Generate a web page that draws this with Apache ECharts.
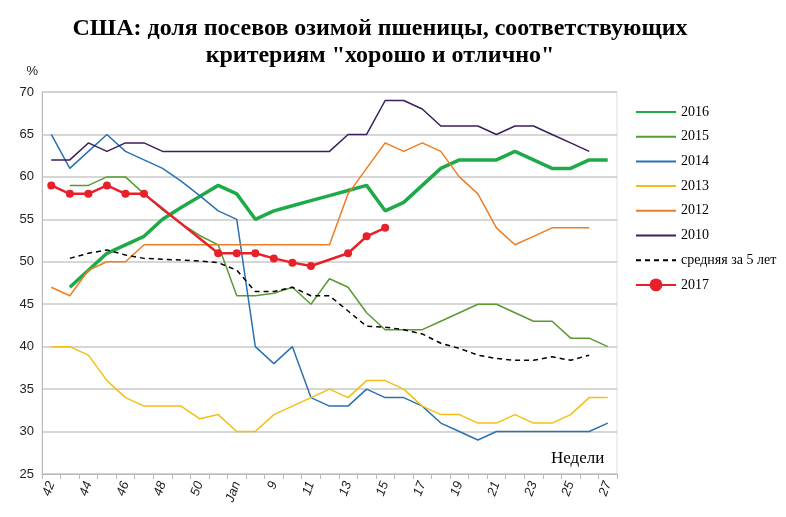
<!DOCTYPE html>
<html>
<head>
<meta charset="utf-8">
<script src="https://cdn.jsdelivr.net/npm/echarts@6/dist/echarts.min.js"></script>
<style>html,body{margin:0;padding:0;background:#fff}#main{width:786px;height:517px}</style>
</head>
<body>
<div id="main"></div>
<script>
// недели: 42..51, Jan, 8..27
var weeks = ['42','43','44','45','46','47','48','49','50','51','Jan','8','9','10','11','12','13','14','15','16','17','18','19','20','21','22','23','24','25','26','27'];

var y2016 = [null,47,49,51,52,53,55,56.4,57.7,59,58,55,56,56.6,57.2,57.8,58.4,59,56,57,59,61,62,62,62,63,62,61,61,62,62];
var y2015 = [null,59,59,60,60,58,56.1,54.5,53.1,52,46,46,46.3,47,45,48,47,44,42,42,42,43,44,45,45,44,43,43,41,41,40];
var y2014 = [65,61,63,65,63,62,61,59.5,57.8,56,55,40,38,40,34,33,33,35,34,34,33,31,30,29,30,30,30,30,30,30,31];
var y2013 = [40,40,39,36,34,33,33,33,31.5,32,30,30,32,33,34,35,34,36,36,35,33,32,32,31,31,32,31,31,32,34,34];
var y2012 = [47,46,49,50,50,52,52,52,52,52,52,52,52,52,52,52,58,61,64,63,64,63,60,58,54,52,53,54,54,54,null];
var y2010 = [62,62,64,63,64,64,63,63,63,63,63,63,63,63,63,63,65,65,69,69,68,66,66,66,65,66,66,65,64,63,null];
var avg5 = [null,50.4,51,51.4,50.8,50.4,50.3,50.2,50.1,49.9,49,46.5,46.5,47,46,46,44.2,42.4,42.3,42,41.5,40.4,39.8,39,38.6,38.4,38.4,38.8,38.4,39,null];
var y2017 = [59,58,58,59,58,58,null,null,null,51,51,51,50.4,49.9,49.5,null,51,53,54,null,null,null,null,null,null,null,null,null,null,null,null];

var names = ['2016','2015','2014','2013','2012','2010','средняя за 5 лет','2017'];

function line(name, data, color, width, extra) {
    var s = {
        name: name, type: 'line', data: data, symbol: 'none',
        lineStyle: {color: color, width: width}, itemStyle: {color: color},
        connectNulls: false, animation: false
    };
    for (var k in extra) s[k] = extra[k];
    return s;
}

var chart = echarts.init(document.getElementById('main'));
chart.setOption({
    animation: false,
    title: {
        text: 'США: доля посевов озимой пшеницы, соответствующих\nкритериям "хорошо и отлично"',
        left: 375, top: 10, textAlign: 'center',
        textStyle: {fontFamily: 'Liberation Serif', fontSize: 24, fontWeight: 'bold', color: '#000', lineHeight: 27}
    },
    grid: {left: 42, right: 169, top: 92, bottom: 43},
    legend: {
        orient: 'vertical', left: 630, top: 100, itemGap: 10.7, itemWidth: 40, itemHeight: 16,
        textStyle: {fontFamily: 'Liberation Serif', fontSize: 14, color: '#000'},
        data: names.map(function (n) {
            return n === '2017' ? {name: n} : {name: n, itemStyle: {opacity: 0}};
        })
    },
    xAxis: {
        type: 'category', data: weeks, boundaryGap: true,
        axisLine: {lineStyle: {color: '#bbb'}},
        axisTick: {show: true, interval: 0, lineStyle: {color: '#bbb'}},
        axisLabel: {interval: 1, rotate: 70, fontStyle: 'italic', fontFamily: 'Liberation Sans', fontSize: 13, color: '#222', margin: 8}
    },
    yAxis: {
        type: 'value', min: 25, max: 70, interval: 5,
        name: '%', nameLocation: 'end', nameGap: 14,
        nameTextStyle: {fontFamily: 'Liberation Sans', fontSize: 13, color: '#222', align: 'right', padding: [0, 4, 0, 0]},
        axisLine: {show: true, lineStyle: {color: '#bbb'}},
        axisLabel: {fontFamily: 'Liberation Sans', fontSize: 13, color: '#222'},
        splitLine: {lineStyle: {color: '#c8c8c8', width: 1.5}}
    },
    graphic: [{
        type: 'text', left: 551, top: 450,
        style: {text: 'Недели', font: '17px "Liberation Serif"', fill: '#000'}
    }, {
        type: 'rect', shape: {x: 42, y: 92, width: 575, height: 382},
        style: {fill: 'none', stroke: '#ddd', lineWidth: 1}, silent: true
    }],
    series: [
        line('2016', y2016, '#1faa4a', 3.5),
        line('2015', y2015, '#5a9a32', 1.5),
        line('2014', y2014, '#2a72b0', 1.5),
        line('2013', y2013, '#f2c014', 1.5),
        line('2012', y2012, '#ee7d22', 1.5),
        line('2010', y2010, '#3a1f5c', 1.5),
        line('средняя за 5 лет', avg5, '#000', 1.5, {lineStyle: {color: '#000', width: 1.5, type: [5, 4]}}),
        line('2017', y2017, '#e8202a', 2.5, {symbol: 'circle', symbolSize: 8, connectNulls: true})
    ]
});
</script>
</body>
</html>
